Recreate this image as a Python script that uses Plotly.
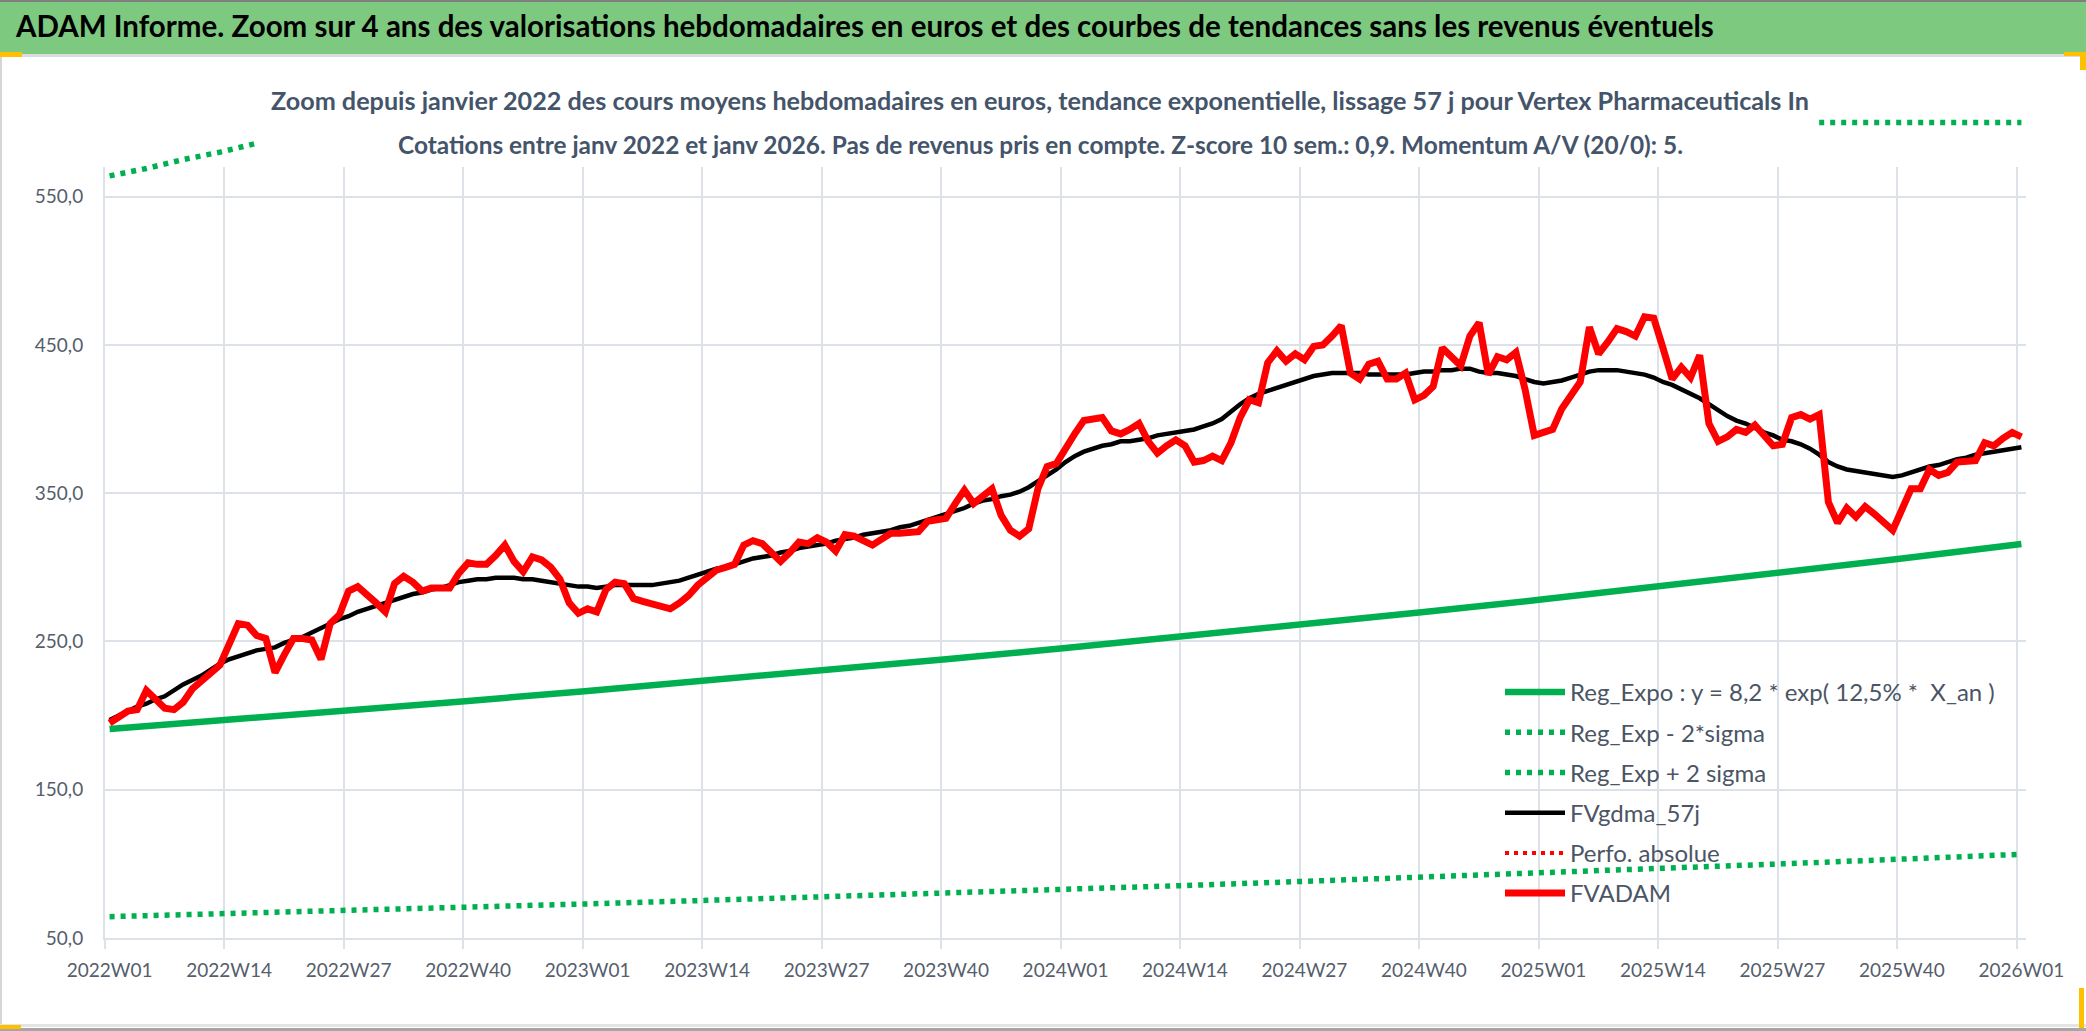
import plotly.graph_objects as go

# canvas and plot area, in pixels
W, H = 2086, 1031
ML, MR, MT, MB = 105, 60, 110, 93
PW, PH = W - ML - MR, H - MT - MB
PLOT_TOP = 167          # top of the gridded area (value 570)

FONT = "Lato, Carlito, Calibri, sans-serif"
GREEN = "#00B050"
GRID = "#DDE1E8"
SLATE = "#44546A"
TICKCOL = "#555E6C"

title_text = ("ADAM Informe. Zoom sur 4 ans des valorisations hebdomadaires en euros "
              "et des courbes de tendances sans les revenus éventuels")
subtitle_1 = ("Zoom depuis janvier 2022 des cours moyens hebdomadaires en euros, tendance "
              "exponentielle, lissage 57 j pour Vertex Pharmaceuticals In")
subtitle_2 = ("Cotations entre janv 2022 et janv 2026. Pas de revenus pris en compte. "
              "Z-score 10 sem.: 0,9. Momentum A/V (20/0): 5.")

# x axis: weekly index, label every 13 weeks
tick_weeks = [0, 13, 26, 39, 52, 65, 78, 91, 104, 117, 130, 143, 156, 169, 182, 195, 208]
tick_labels = ["2022W01", "2022W14", "2022W27", "2022W40", "2023W01", "2023W14", "2023W27",
               "2023W40", "2024W01", "2024W14", "2024W27", "2024W40", "2025W01", "2025W14",
               "2025W27", "2025W40", "2026W01"]

# exponential regression and -2 sigma band, read at each labelled week
reg_expo = [191.0, 197.1, 203.4, 209.9, 216.6, 223.5, 230.6, 238.0, 245.6, 253.4, 261.5,
            269.8, 278.4, 287.3, 296.5, 305.9, 315.7]
reg_minus = [64.4, 66.4, 68.6, 70.8, 73.0, 75.4, 77.7, 80.2, 82.8, 85.4, 88.2, 91.0, 93.9,
             96.9, 100.0, 103.2, 106.5]

# +2 sigma band: only the visible bits (drawn above the plot area in the source)
plus_weeks = [0, 4, 8, 12, 16, None, 186, 190, 194, 198, 202, 206, 208]
reg_plus = [564, 569, 575, 580, 586, None, 600, 600, 600, 600, 600, 600, 600]

# weekly average price (FVADAM), 2022W01 .. 2026W01
fvadam = [
    195, 199, 203, 204, 217, 211, 205, 204, 209, 218, 223, 228, 234, 248, 262, 261, 254, 252,
    229, 241, 252, 252, 251, 238, 262, 268, 284, 287, 282, 276, 270, 289, 294, 290, 284, 286,
    286, 286, 296, 303, 302, 302, 308, 315, 304, 297, 307, 305, 300, 292, 276, 269,
    272, 270, 285, 290, 289, 279, 277, 275, 273, 272, 276, 281, 288, 293, 298, 300, 302, 315,
    318, 316, 310, 304, 310, 317, 316, 320, 317, 311, 322, 321, 318, 315, 319, 323, 323, 323,
    324, 331, 332, 333, 343, 352, 343, 348, 353, 335, 325, 321, 326, 353, 368, 370,
    381, 390, 399, 400, 401, 392, 390, 393, 397, 385, 377, 382, 386, 382, 371, 372, 375, 372,
    384, 401, 413, 411, 438, 446, 439, 444, 440, 449, 450, 456, 463, 431, 427, 437, 439, 427,
    427, 431, 413, 416, 422, 448, 442, 436, 456, 465, 430, 442, 440, 445, 420, 389,
    391, 393, 407, 416, 425, 462, 444, 452, 461, 459, 456, 469, 468, 448, 427, 435, 428, 443,
    397, 385, 388, 393, 391, 396, 389, 382, 383, 401, 403, 400, 403, 344, 330, 340, 334, 341,
    336, 330, 325, 339, 353, 353, 366, 362, 364, 371, 371, 372, 384, 382, 387, 391, 388,
]

# 57-day smoothed average (FVgdma_57j)
fvgdma = [
    197, 200, 203, 206, 208, 211, 213, 217, 221, 224, 227, 231, 235, 238, 240, 242, 244, 245,
    246, 249, 251, 253, 256, 259, 262, 265, 267, 270, 272, 274, 276, 278, 280, 282, 283, 285,
    286, 288, 290, 291, 292, 292, 293, 293, 293, 292, 292, 291, 290, 289, 288, 287,
    287, 286, 287, 288, 288, 288, 288, 288, 289, 290, 291, 293, 295, 297, 299, 300, 302, 304,
    306, 307, 308, 310, 311, 313, 314, 315, 316, 318, 319, 320, 322, 323, 324, 325, 327, 328,
    330, 332, 334, 336, 338, 340, 343, 345, 346, 348, 349, 351, 354, 358, 362, 366,
    371, 375, 378, 380, 382, 383, 385, 385, 386, 387, 389, 390, 391, 392, 393, 395, 397, 400,
    405, 410, 414, 417, 419, 421, 423, 425, 427, 429, 430, 431, 431, 431, 431, 430, 430, 430,
    430, 430, 431, 432, 432, 433, 433, 434, 434, 432, 431, 431, 430, 429, 427, 425,
    424, 425, 426, 428, 430, 432, 433, 433, 433, 432, 431, 430, 428, 425, 423, 420, 417, 414,
    410, 406, 402, 399, 397, 394, 391, 389, 386, 385, 383, 380, 376, 371, 368, 366, 365, 364,
    363, 362, 361, 362, 364, 366, 368, 369, 371, 373, 374, 376, 377, 378, 379, 380, 381,
]

weeks = list(range(len(fvadam)))


def px_x(px):
    return (px - ML) / PW


def px_y(py):
    return (H - MB - py) / PH


fig = go.Figure()

fig.add_trace(go.Scatter(
    x=tick_weeks, y=reg_expo, mode="lines", name="Reg_Expo : y = 8,2 * exp( 12,5% *  X_an )",
    legendgroup="a", line=dict(color=GREEN, width=6.5)))
fig.add_trace(go.Scatter(
    x=tick_weeks, y=reg_minus, mode="lines", name="Reg_Exp - 2*sigma", legendgroup="b",
    line=dict(color=GREEN, width=5.5, dash="5px,6px")))
fig.add_trace(go.Scatter(
    x=plus_weeks, y=reg_plus, mode="lines", name="Reg_Exp + 2 sigma", legendgroup="c",
    line=dict(color=GREEN, width=5.5, dash="5px,6px"), xaxis="x2", yaxis="y2",
    connectgaps=False))
fig.add_trace(go.Scatter(
    x=weeks, y=fvgdma, mode="lines", name="FVgdma_57j", legendgroup="d",
    line=dict(color="#000000", width=4.5)))
fig.add_trace(go.Scatter(
    x=weeks[:1], y=[None], mode="lines", name="Perfo. absolue", legendgroup="e",
    line=dict(color="#FF0000", width=4, dash="4px,5px")))
fig.add_trace(go.Scatter(
    x=weeks, y=fvadam, mode="lines", name="FVADAM", legendgroup="f",
    line=dict(color="#FF0000", width=7)))

main_top = px_y(PLOT_TOP)
y_lo, y_hi = 50, 570

fig.update_layout(
    width=W, height=H,
    margin=dict(l=ML, r=MR, t=MT, b=MB, pad=0),
    paper_bgcolor="white",
    plot_bgcolor="rgba(0,0,0,0)",
    separators=", ",
    font=dict(family=FONT, color=TICKCOL, size=19),
    title=dict(text=title_text, xref="container", yref="container", x=16 / W,
               y=1 - 27 / H, xanchor="left", yanchor="middle",
               font=dict(family=FONT, size=29.5, color="#000000", weight="bold")),
    xaxis=dict(range=[-0.5, 208.5], tickmode="array", tickvals=tick_weeks,
               ticktext=tick_labels, showgrid=False, ticks="", zeroline=False,
               showline=True, linecolor=GRID, linewidth=2, ticklabelstandoff=14,
               tickfont=dict(size=19, color=TICKCOL),
               minor=dict(tick0=-0.5, dtick=13, showgrid=True, gridcolor=GRID,
                          gridwidth=2, ticks="outside", ticklen=9, tickcolor=GRID,
                          tickwidth=2)),
    yaxis=dict(range=[y_lo, y_hi], domain=[0, main_top], tickmode="array",
               tickvals=[50, 150, 250, 350, 450, 550], tickformat=".1f",
               showgrid=True, gridcolor=GRID, gridwidth=2, zeroline=False,
               showline=True, linecolor=GRID, linewidth=2, ticks="",
               ticklabelstandoff=16, tickfont=dict(size=19, color=TICKCOL)),
    xaxis2=dict(range=[-0.5, 208.5], visible=False, anchor="y2"),
    yaxis2=dict(range=[y_lo, y_lo + (y_hi - y_lo) / main_top], domain=[0, 1],
                visible=False, anchor="x2"),
    legend=dict(x=px_x(1500), y=px_y(670), xanchor="left", yanchor="top",
                bgcolor="rgba(0,0,0,0)", tracegroupgap=6, itemwidth=60,
                font=dict(family=FONT, size=24, color="#4B5565")),
    showlegend=True,
)

# chart titles
fig.add_annotation(x=px_x(1040), y=px_y(100), xref="paper", yref="paper", text=subtitle_1,
                   showarrow=False, xanchor="center", yanchor="middle",
                   font=dict(family=FONT, size=25.2, color=SLATE, weight="bold"))
fig.add_annotation(x=px_x(1040), y=px_y(145), xref="paper", yref="paper", text=subtitle_2,
                   showarrow=False, xanchor="center", yanchor="middle",
                   font=dict(family=FONT, size=24.4, color=SLATE, weight="bold"))


def box(x0, y0, x1, y1, color):
    fig.add_shape(type="rect", xref="paper", yref="paper", x0=px_x(x0), x1=px_x(x1),
                  y0=px_y(y0), y1=px_y(y1), fillcolor=color, line=dict(width=0),
                  layer="below")


# green header band and sheet decorations
box(0, 0, W, 54, "#7DC97F")
box(0, 0, W, 2, "#7F7F7F")
box(0, 54, W, 57, "#DCDCDC")
box(0, 52, 22, 57, "#FFC000")
box(2064, 52, W, 56, "#FFC000")
box(2080, 52, W, 70, "#FFC000")
box(0, 57, 2, H, "#D6D6D6")
box(0, 1024, W, 1027, "#E4E4E4")
box(0, 1028, W, H, "#A6A6A6")
box(0, 1025, 21, 1029, "#FFC000")
box(2079, 988, 2084, 1028, "#FFC000")

fig.write_html("out.html", config={"displayModeBar": False},
               post_script="document.body.style.margin='0';")
